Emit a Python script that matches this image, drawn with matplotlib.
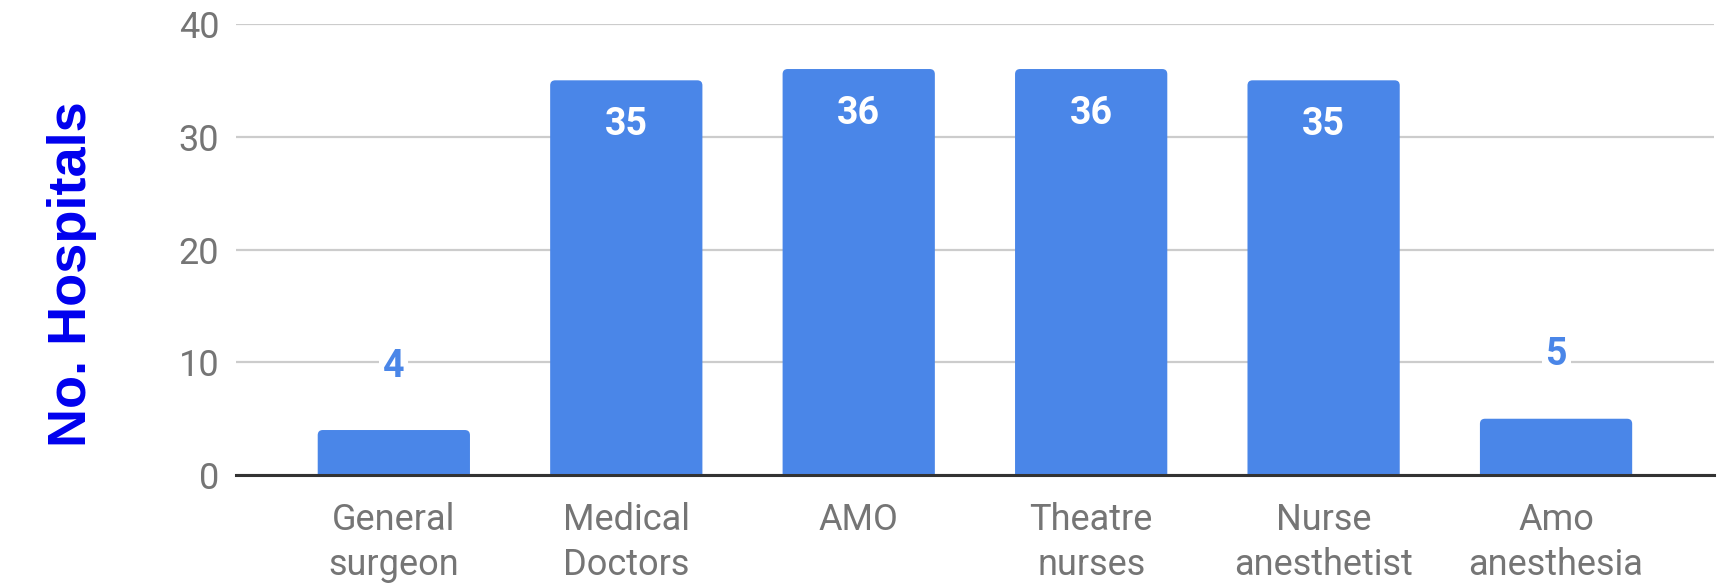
import matplotlib.pyplot as plt
import numpy as np
from matplotlib.patches import FancyBboxPatch

categories = ["General\nsurgeon", "Medical\nDoctors", "AMO", "Theatre\nnurses",
              "Nurse\nanesthetist", "Amo\nanesthesia"]
values = [4, 35, 36, 36, 35, 5]
yticks = [0, 10, 20, 30, 40]

bar_color = "#4a86e8"
gray = "#757575"

plt.rcParams["font.family"] = ["Roboto", "DejaVu Sans"]

fig = plt.figure(figsize=(17.21, 5.83), dpi=100)
ax = fig.add_axes([0.137, 0.185, 0.859, 0.774])

x = np.arange(len(categories))
bars = ax.bar(x, values, width=0.655, color=bar_color, zorder=3)

ax.set_ylim(0, 40)
ax.set_xlim(-0.68, len(categories) - 1 + 0.68)

# rounded tops: swap each rectangle for a rounded box that runs below the axis
bbox_ax = ax.get_window_extent()
aspect = (40 / bbox_ax.height) / ((ax.get_xlim()[1] - ax.get_xlim()[0]) / bbox_ax.width)
for b in bars:
    b.set_visible(False)
    r = FancyBboxPatch((b.get_x(), -2), b.get_width(), b.get_height() + 2,
                       boxstyle="round,pad=0,rounding_size=0.022",
                       mutation_aspect=aspect, fc=bar_color, ec="none", zorder=3)
    ax.add_patch(r)

ax.set_yticks(yticks)
ax.set_xticks(x)
ax.set_xticklabels(categories, linespacing=1.33)
ax.tick_params(axis="both", length=0, labelsize=26, colors=gray)
ax.tick_params(axis="x", pad=19)
ax.tick_params(axis="y", pad=12)
ax.grid(axis="y", color="#cccccc", linewidth=1.6, zorder=0)
for s in ["top", "right", "left"]:
    ax.spines[s].set_visible(False)
ax.spines["bottom"].set_color("#333333")
ax.spines["bottom"].set_linewidth(2.2)
ax.spines["bottom"].set_zorder(4)

# value labels
for xi, v in zip(x, values):
    if v > 10:
        ax.annotate(str(v), (xi, v), xytext=(0, -32), textcoords="offset points",
                    ha="center", va="center", color="white", fontsize=27,
                    fontweight="bold", zorder=5)
    else:
        ax.annotate(str(v), (xi, v), xytext=(0, 46), textcoords="offset points",
                    ha="center", va="center", color=bar_color, fontsize=27,
                    fontweight="bold", zorder=5,
                    bbox=dict(boxstyle="square,pad=0.1", fc="white", ec="none"))

fig.text(0.042, 0.53, "No. Hospitals", rotation=90, ha="center", va="center",
         color="#0000ee", fontsize=39, fontweight="bold", family="Liberation Sans")

fig.savefig("out.png", dpi=100)
